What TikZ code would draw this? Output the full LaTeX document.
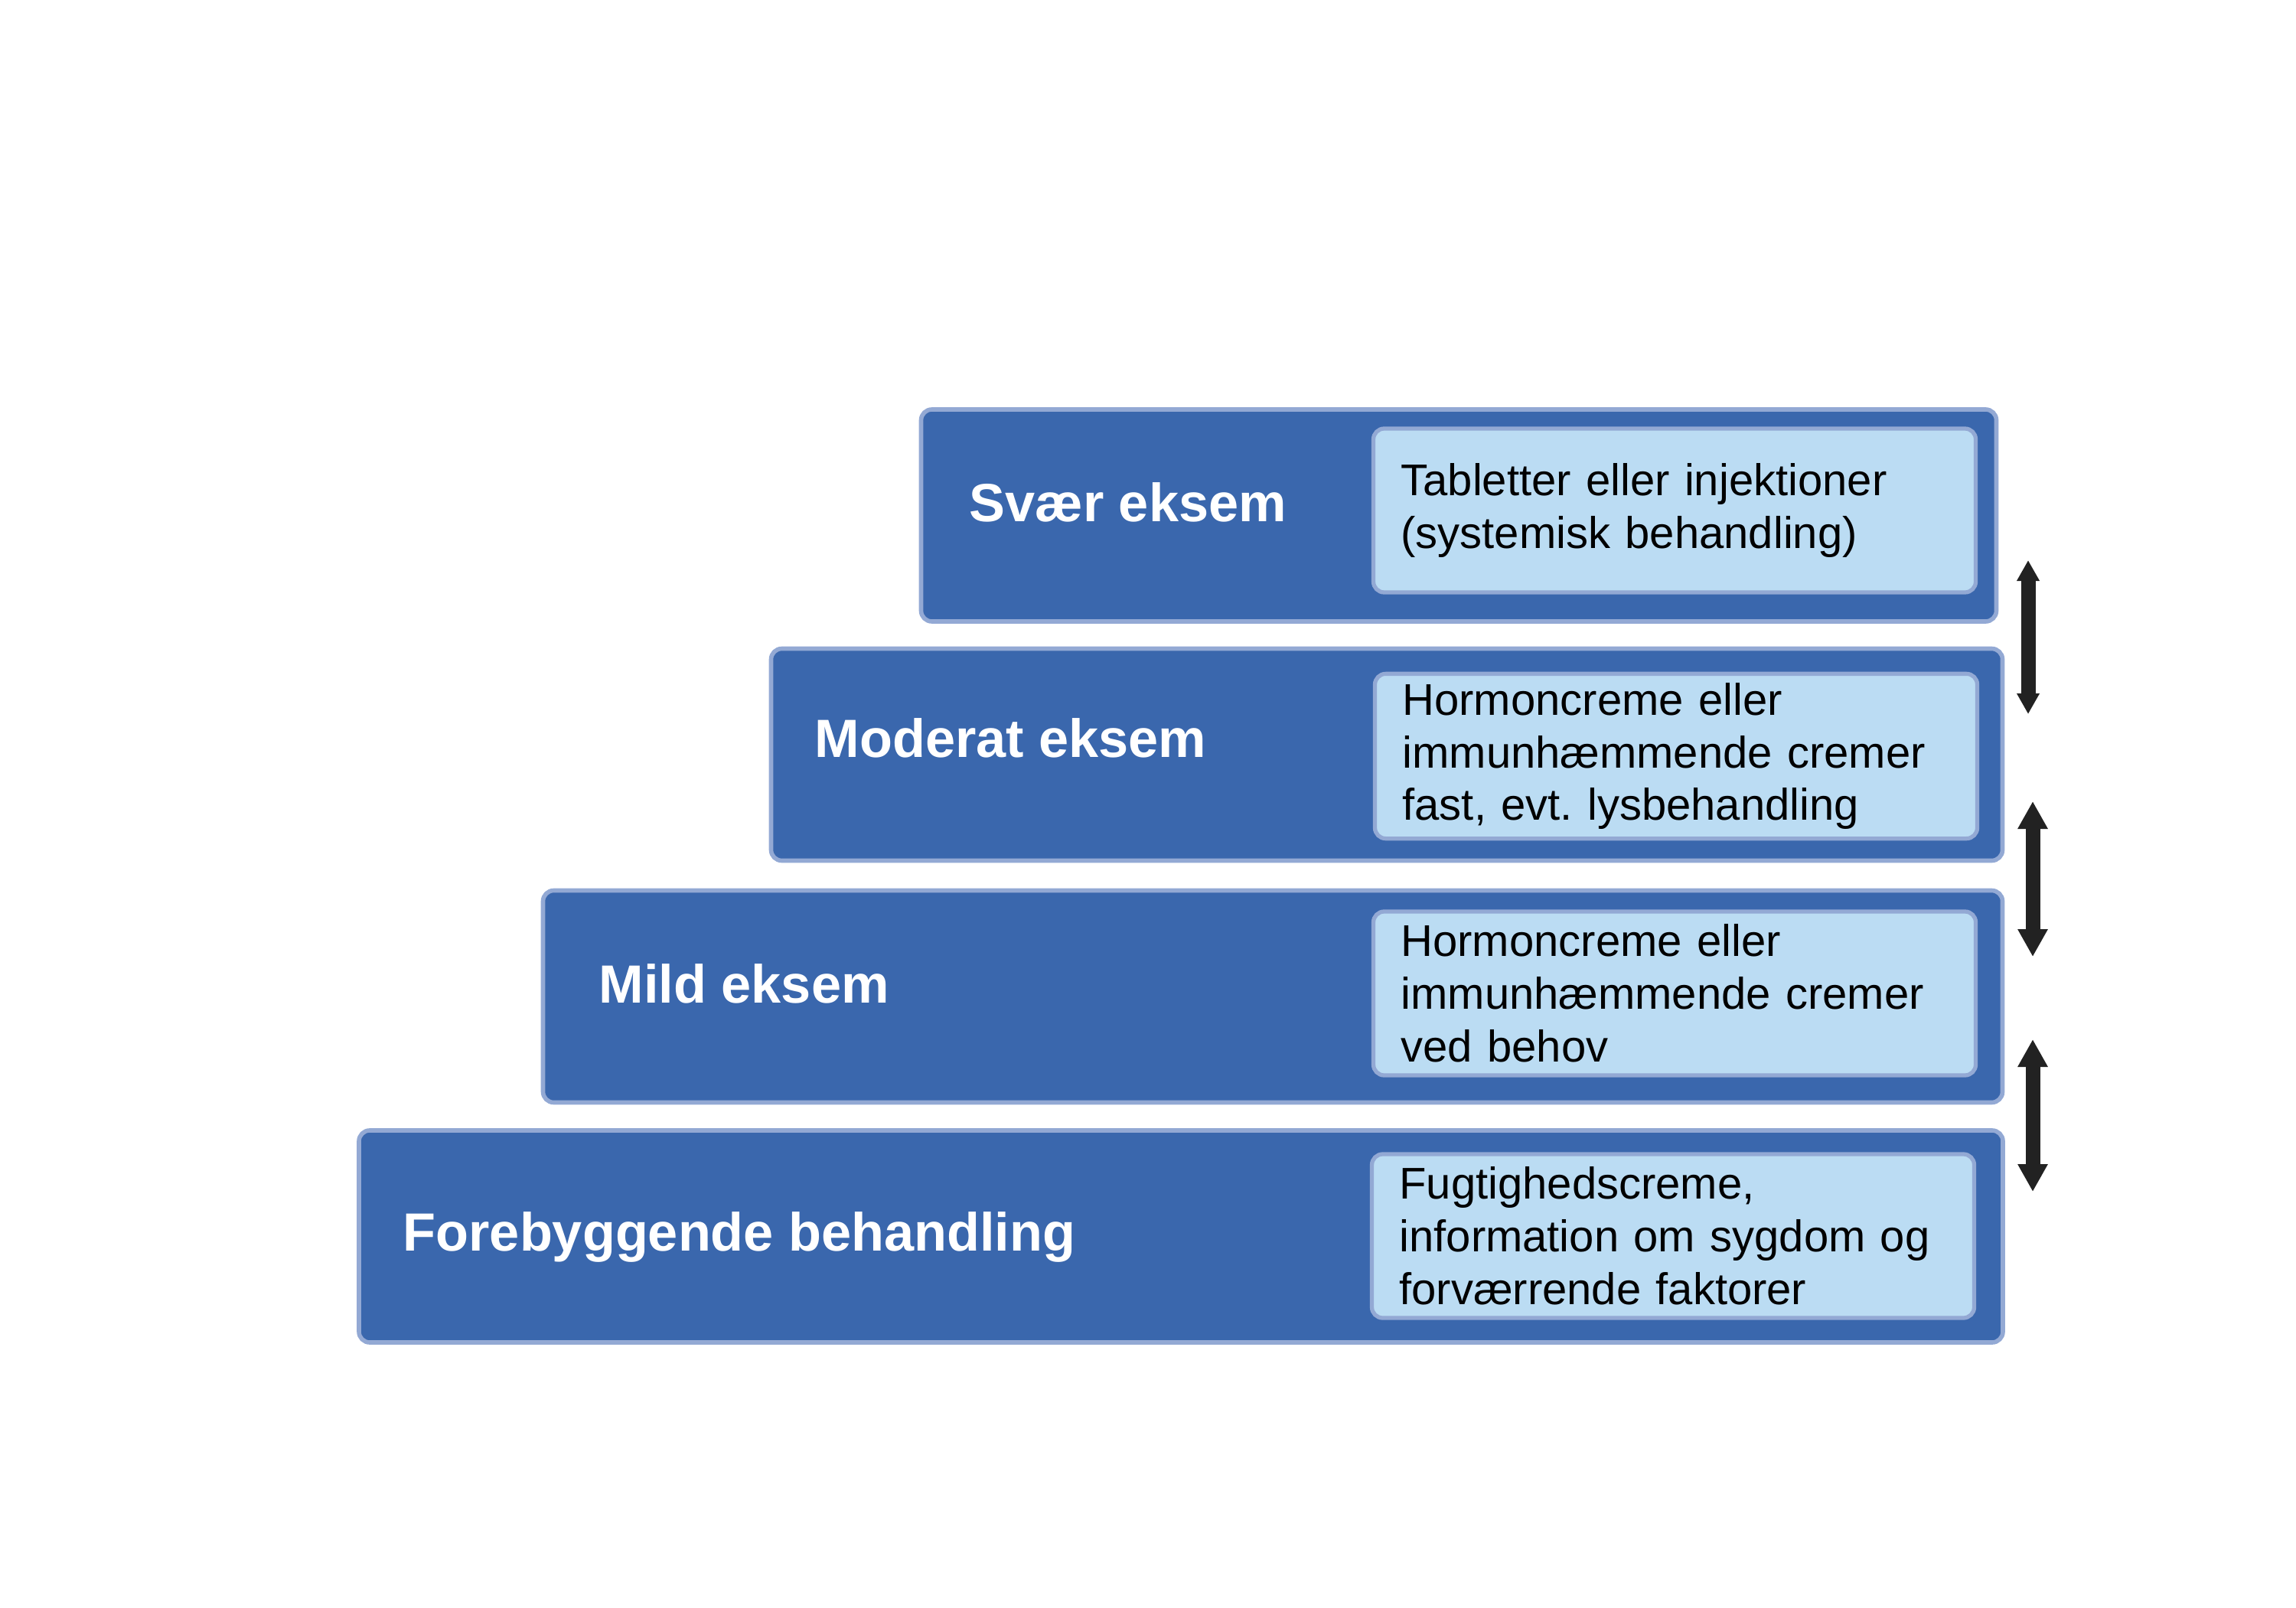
\documentclass[tikz,border=0pt]{standalone}
\usepackage{fontspec}
\setmainfont{Liberation Sans}
\usetikzlibrary{arrows.meta,positioning,calc}
\definecolor{stageblue}{HTML}{3A67AD}
\definecolor{stageedge}{HTML}{93A9D4}
\definecolor{treatfill}{HTML}{BBDCF3}
\definecolor{arrowgray}{HTML}{222222}
\tikzset{
  stage/.style={draw=stageedge, fill=stageblue, line width=1.6pt, rounded corners=4pt, minimum height=2.77cm},
  stagetitle/.style={anchor=base west, text=white, inner sep=0pt, font=\fontsize{20}{24}\selectfont\bfseries},
  treat/.style={draw=stageedge, fill=treatfill, line width=1.5pt, rounded corners=4pt, minimum height=2.14cm, text width=7.15cm, inner xsep=0.36cm, align=left, font=\fontsize{16.5}{19.6}\selectfont\frenchspacing},
  stepsmall/.style={{Triangle[width=0.28cm,length=0.27cm]}-{Triangle[width=0.28cm,length=0.27cm]}, line width=0.19cm, draw=arrowgray},
  stepbig/.style={{Triangle[width=0.37cm,length=0.36cm]}-{Triangle[width=0.37cm,length=0.36cm]}, line width=0.19cm, draw=arrowgray}
}

\begin{document}
\begin{tikzpicture}[x=1cm,y=1cm]
  \useasboundingbox (0,0) rectangle (30,21);

  % the four steps
  \node[stage, minimum width=14.05cm] (svaer) at (19.06,14.265) {};
  \node[stage, minimum width=16.09cm] (moderat) at (18.12,11.14) {};
  \node[stage, minimum width=19.07cm] (mild) at (16.63,7.98) {};
  \node[stage, minimum width=21.48cm] (forebyg) at (15.43,4.845) {};

  \node[stagetitle] (svaertitle) at (12.66,14.19) {Svær eksem};
  \node[stagetitle] (moderattitle) at (10.64,11.11) {Moderat eksem};
  \node[stagetitle] (mildtitle) at (7.82,7.90) {Mild eksem};
  \node[stagetitle] (forebygtitle) at (5.26,4.66) {Forebyggende behandling};

  % treatments
  \node[treat] (svaerbeh) at (21.88,14.33) {Tabletter eller injektioner\\(systemisk behandling)};
  \node[treat] (moderatbeh) at (21.90,11.12) {Hormoncreme eller\\immunhæmmende cremer\\fast, evt. lysbehandling};
  \node[treat] (mildbeh) at (21.88,8.02) {Hormoncreme eller\\immunhæmmende cremer\\ved behov};
  \node[treat] (forebygbeh) at (21.86,4.85) {Fugtighedscreme,\\information om sygdom og\\forværrende faktorer};

  % arrows between the steps
  \coordinate (a1top) at (26.50,13.68);
  \coordinate (a1bot) at (26.50,11.67);
  \coordinate (a2top) at (26.56,10.53);
  \coordinate (a2bot) at (26.56,8.50);
  \coordinate (a3top) at (26.56,7.42);
  \coordinate (a3bot) at (26.56,5.43);
  \draw[stepsmall] (a1top) -- (a1bot);
  \draw[stepbig] (a2top) -- (a2bot);
  \draw[stepbig] (a3top) -- (a3bot);
\end{tikzpicture}
\end{document}
